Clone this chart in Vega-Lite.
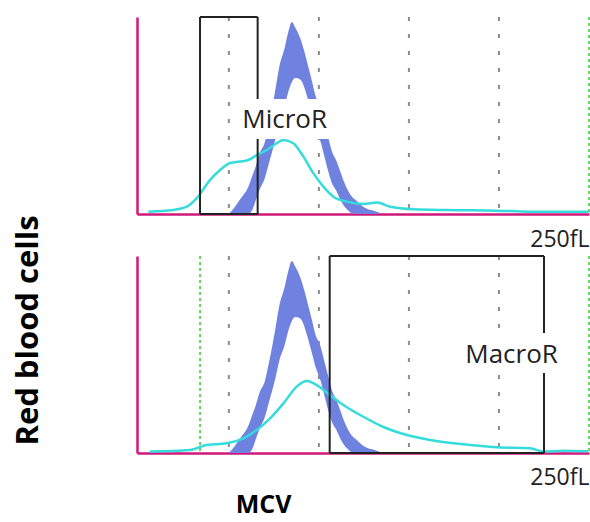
{
  "$schema": "https://vega.github.io/schema/vega-lite/v6.json",
  "background": "white",
  "padding": {"left": 12, "top": 16, "right": 0, "bottom": 4},
  "config": {"view": {"stroke": null}, "font": "Open Sans"},
  "spacing": 42,
  "bounds": "flush",
  "datasets": {
    "band": [
      {"x": 50, "y": 0, "y2": 0}, {"x": 52, "y": 2.0, "y2": 0}, {"x": 56, "y": 7.1, "y2": 0}, {"x": 61, "y": 14.2, "y2": 0},
      {"x": 63, "y": 19.3, "y2": 2.0}, {"x": 65, "y": 24.4, "y2": 7.1}, {"x": 67, "y": 30.5, "y2": 12.2}, {"x": 70, "y": 36.5, "y2": 18.3},
      {"x": 72, "y": 44.7, "y2": 24.9}, {"x": 74, "y": 53.8, "y2": 31.5}, {"x": 76, "y": 64.0, "y2": 38.6}, {"x": 78, "y": 74.6, "y2": 46.7},
      {"x": 81, "y": 84.3, "y2": 54.8}, {"x": 83, "y": 92.4, "y2": 61.9}, {"x": 85, "y": 97.5, "y2": 67.0}, {"x": 87, "y": 94.4, "y2": 69.0},
      {"x": 90, "y": 88.3, "y2": 68.0}, {"x": 92, "y": 82.2, "y2": 64.0}, {"x": 94, "y": 75.1, "y2": 57.9}, {"x": 96, "y": 68.0, "y2": 51.3},
      {"x": 98, "y": 60.4, "y2": 44.2}, {"x": 101, "y": 53.8, "y2": 36.5}, {"x": 103, "y": 46.7, "y2": 29.4}, {"x": 105, "y": 39.6, "y2": 22.3},
      {"x": 107, "y": 32.5, "y2": 16.2}, {"x": 110, "y": 26.4, "y2": 11.2}, {"x": 112, "y": 21.3, "y2": 7.1}, {"x": 114, "y": 16.2, "y2": 4.1},
      {"x": 116, "y": 12.2, "y2": 2.0}, {"x": 118, "y": 9.1, "y2": 0.5}, {"x": 121, "y": 6.6, "y2": 0}, {"x": 124, "y": 4.1, "y2": 0},
      {"x": 127, "y": 2.5, "y2": 0}, {"x": 131, "y": 1.5, "y2": 0}, {"x": 134, "y": 0.5, "y2": 0}
    ],
    "cyanTop": [
      {"x": 5.3, "y": 1.2}, {"x": 19, "y": 2.0}, {"x": 26.6, "y": 3.7}, {"x": 32.2, "y": 8.1}, {"x": 39.6, "y": 17.3},
      {"x": 45.1, "y": 22.3}, {"x": 50.7, "y": 25.9}, {"x": 56.2, "y": 26.6}, {"x": 60.8, "y": 27.4}, {"x": 65.5, "y": 29.9},
      {"x": 71.1, "y": 32.5}, {"x": 76.6, "y": 35.9}, {"x": 80.3, "y": 37.6}, {"x": 85.8, "y": 35.9}, {"x": 91.4, "y": 29.1},
      {"x": 97, "y": 20.6}, {"x": 102.5, "y": 13.9}, {"x": 108.1, "y": 8.8}, {"x": 115.5, "y": 6.3}, {"x": 124.7, "y": 5.1},
      {"x": 132.2, "y": 5.8}, {"x": 139.6, "y": 3.7}, {"x": 152.5, "y": 2.4}, {"x": 171.1, "y": 2.0}, {"x": 198.8, "y": 1.7},
      {"x": 217.3, "y": 1.2}, {"x": 249.7, "y": 1.2}
    ],
    "cyanBottom": [
      {"x": 6.2, "y": 0.7}, {"x": 28.4, "y": 1.5}, {"x": 37.7, "y": 4.1}, {"x": 48.8, "y": 4.9}, {"x": 58.1, "y": 7.4},
      {"x": 65.5, "y": 11.7}, {"x": 72.9, "y": 17.6}, {"x": 80.3, "y": 25.2}, {"x": 87.7, "y": 33.7}, {"x": 93.3, "y": 36.5},
      {"x": 98.8, "y": 34.5}, {"x": 106.2, "y": 29.4}, {"x": 113.6, "y": 24.4}, {"x": 124.7, "y": 18.4}, {"x": 135.8, "y": 13.2},
      {"x": 148.8, "y": 9.1}, {"x": 161.8, "y": 6.6}, {"x": 180.3, "y": 4.4}, {"x": 198.8, "y": 2.9}, {"x": 217.3, "y": 2.4},
      {"x": 224.7, "y": 0.7}, {"x": 235.8, "y": 1.2}, {"x": 249.6, "y": 0.9}
    ],
    "gridGray": [
      {"x": 50, "y": 100, "y2": 0}, {"x": 100, "y": 100, "y2": 0}, {"x": 150, "y": 100, "y2": 0}, {"x": 200, "y": 100, "y2": 0}
    ],
    "greenTop": [{"x": 250, "y": 100, "y2": 0}],
    "greenBottom": [{"x": 34, "y": 100, "y2": 0}, {"x": 250, "y": 100, "y2": 0}],
    "boxTop": [
      {"x": 34, "y": 0, "x2": 34, "y2": 100},
      {"x": 34, "y": 100, "x2": 66, "y2": 100},
      {"x": 34, "y": 0, "x2": 66, "y2": 0},
      {"x": 66, "y": 100, "x2": 66, "y2": 0}
    ],
    "boxBottom": [
      {"x": 106, "y": 0, "x2": 106, "y2": 100},
      {"x": 106, "y": 100, "x2": 225, "y2": 100},
      {"x": 106, "y": 0, "x2": 225, "y2": 0},
      {"x": 225, "y": 100, "x2": 225, "y2": 0}
    ],
    "labelTop": [{"x": 81, "y": 47.7, "x2": 56.8, "xa": 105.7, "ya": 38.1, "yb": 58.4, "label": "MicroR"}],
    "labelBottom": [{"x": 207, "y": 50, "x2": 179.6, "xa": 234, "ya": 40.6, "yb": 60.9, "label": "MacroR"}]
  },
  "vconcat": [
    {
      "width": 452,
      "height": 197,
      "encoding": {
        "x": {"field": "x", "type": "quantitative", "scale": {"domain": [-1, 250], "nice": false, "zero": false},
              "axis": {"values": [250], "labelExpr": "'250fL'", "ticks": false, "tickSize": 0, "grid": false,
                       "domainColor": "#d0187a", "domainWidth": 2.5, "labelAlign": "right", "labelBaseline": "alphabetic",
                       "labelPadding": 32, "labelFontSize": 23, "labelFont": "Open Sans", "labelColor": "#222222",
                       "labelFlush": false, "labelOverlap": false, "title": null}},
        "y": {"field": "y", "type": "quantitative", "scale": {"domain": [0, 100], "nice": false},
              "axis": {"ticks": false, "labels": false, "grid": false, "domainColor": "#d0187a", "domainWidth": 2.5, "title": null}}
      },
      "layer": [
        {"data": {"name": "gridGray"}, "mark": {"type": "rule", "color": "#8c8c8c", "strokeWidth": 2, "strokeDash": [4, 13]},
         "encoding": {"y2": {"field": "y2"}}},
        {"data": {"name": "greenTop"}, "mark": {"type": "rule", "color": "#33cc33", "strokeWidth": 1.5, "strokeDash": [3, 3]},
         "encoding": {"y2": {"field": "y2"}}},
        {"data": {"name": "band"}, "mark": {"type": "area", "color": "#6f82e0", "interpolate": "monotone"},
         "encoding": {"y2": {"field": "y2"}}},
        {"data": {"name": "cyanTop"}, "mark": {"type": "line", "color": "#36dcdc", "strokeWidth": 2.5, "interpolate": "monotone"},
         "encoding": {}},
        {"data": {"name": "boxTop"}, "mark": {"type": "rule", "color": "#222222", "strokeWidth": 2},
         "encoding": {"x2": {"field": "x2"}, "y2": {"field": "y2"}}},
        {"data": {"name": "labelTop"}, "mark": {"type": "rect", "color": "white"},
         "encoding": {"x": {"field": "x2", "type": "quantitative"}, "x2": {"field": "xa"}, "y": {"field": "ya", "type": "quantitative"}, "y2": {"field": "yb"}}},
        {"data": {"name": "labelTop"}, "mark": {"type": "text", "font": "Open Sans", "fontSize": 26, "color": "#222222", "align": "center", "baseline": "middle"},
         "encoding": {"text": {"field": "label"}}}
      ]
    },
    {
      "width": 452,
      "height": 197,
      "encoding": {
        "x": {"field": "x", "type": "quantitative", "scale": {"domain": [-1, 250], "nice": false, "zero": false},
              "axis": {"values": [250], "labelExpr": "'250fL'", "ticks": false, "tickSize": 0, "grid": false,
                       "domainColor": "#d0187a", "domainWidth": 2.5, "labelAlign": "right", "labelBaseline": "alphabetic",
                       "labelPadding": 31, "labelFontSize": 23, "labelFont": "Open Sans", "labelColor": "#222222",
                       "labelFlush": false, "labelOverlap": false,
                       "title": "MCV", "titleX": 126, "titleY": 59, "titleAlign": "center", "titleBaseline": "alphabetic",
                       "titleFont": "Open Sans", "titleFontSize": 25, "titleFontWeight": "bold", "titleColor": "#000000"}},
        "y": {"field": "y", "type": "quantitative", "scale": {"domain": [0, 100], "nice": false},
              "axis": {"ticks": false, "labels": false, "grid": false, "domainColor": "#d0187a", "domainWidth": 2.5,
                       "title": "Red blood cells", "titleX": -100, "titleY": 74, "titleAngle": 270, "titleAlign": "center",
                       "titleBaseline": "alphabetic", "titleFont": "Open Sans", "titleFontSize": 31, "titleFontWeight": "bold",
                       "titleColor": "#000000"}}
      },
      "layer": [
        {"data": {"name": "gridGray"}, "mark": {"type": "rule", "color": "#8c8c8c", "strokeWidth": 2, "strokeDash": [4, 13]},
         "encoding": {"y2": {"field": "y2"}}},
        {"data": {"name": "greenBottom"}, "mark": {"type": "rule", "color": "#33cc33", "strokeWidth": 1.5, "strokeDash": [3, 3]},
         "encoding": {"y2": {"field": "y2"}}},
        {"data": {"name": "band"}, "mark": {"type": "area", "color": "#6f82e0", "interpolate": "monotone"},
         "encoding": {"y2": {"field": "y2"}}},
        {"data": {"name": "cyanBottom"}, "mark": {"type": "line", "color": "#36dcdc", "strokeWidth": 2.5, "interpolate": "monotone"},
         "encoding": {}},
        {"data": {"name": "boxBottom"}, "mark": {"type": "rule", "color": "#222222", "strokeWidth": 2},
         "encoding": {"x2": {"field": "x2"}, "y2": {"field": "y2"}}},
        {"data": {"name": "labelBottom"}, "mark": {"type": "rect", "color": "white"},
         "encoding": {"x": {"field": "x2", "type": "quantitative"}, "x2": {"field": "xa"}, "y": {"field": "ya", "type": "quantitative"}, "y2": {"field": "yb"}}},
        {"data": {"name": "labelBottom"}, "mark": {"type": "text", "font": "Open Sans", "fontSize": 26, "color": "#222222", "align": "center", "baseline": "middle"},
         "encoding": {"text": {"field": "label"}}}
      ]
    }
  ]
}
